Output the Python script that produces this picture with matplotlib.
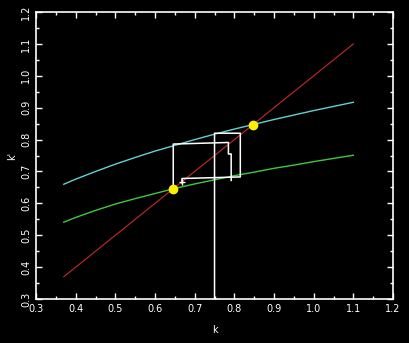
import numpy as np
import matplotlib
matplotlib.use("Agg")
import matplotlib.pyplot as plt
from matplotlib.ticker import MultipleLocator, FormatStrFormatter

# capital grid and policy functions
k_grid = [0.37, 0.40, 0.45, 0.50, 0.55, 0.60, 0.65, 0.70, 0.75,
          0.80, 0.85, 0.90, 0.95, 1.00, 1.05, 1.10]
k_high = [0.660, 0.676, 0.700, 0.723, 0.744, 0.764, 0.782, 0.800, 0.817,
          0.833, 0.848, 0.863, 0.877, 0.891, 0.904, 0.917]
k_low = [0.541, 0.556, 0.578, 0.598, 0.615, 0.631, 0.647, 0.661, 0.674,
         0.687, 0.698, 0.710, 0.720, 0.731, 0.741, 0.751]

# steady states (yellow dots)
ss_k = [0.645, 0.847]

# simulated path (white)
path1_k = [0.75, 0.75, 0.815, 0.815, 0.668, 0.668]
path1_kp = [0.30, 0.82, 0.82, 0.683, 0.678, 0.664]
path2_k = [0.646, 0.646, 0.785, 0.785, 0.792, 0.792]
path2_kp = [0.645, 0.786, 0.791, 0.755, 0.755, 0.672]
cross_k = [0.668]
cross_kp = [0.668]

fig = plt.figure(figsize=(4.09, 3.43), dpi=100, facecolor="black")
ax = fig.add_axes([0.088, 0.128, 0.873, 0.837], facecolor="black")

ax.plot([k_grid[0], k_grid[-1]], [k_grid[0], k_grid[-1]], color="#c82828", lw=0.8)
ax.plot(k_grid, k_high, color="#5fd3d3", lw=1.0)
ax.plot(k_grid, k_low, color="#3fc83f", lw=1.0)
ax.plot(path1_k, path1_kp, color="white", lw=1.1)
ax.plot(path2_k, path2_kp, color="white", lw=1.1)
ax.plot(cross_k, cross_kp, "+", color="white", ms=5, mew=1.0)
ax.plot(ss_k, ss_k, "o", color="#ffee00", ms=6, mec="#ffee00")

ax.set_xlim(0.3, 1.2)
ax.set_ylim(0.3, 1.2)
for a in (ax.xaxis, ax.yaxis):
    a.set_major_locator(MultipleLocator(0.1))
    a.set_minor_locator(MultipleLocator(0.05))
    a.set_major_formatter(FormatStrFormatter("%.1f"))

ax.tick_params(which="both", direction="in", colors="white", top=True, right=True,
               labelsize=7, width=1.0)
ax.tick_params(which="major", length=4)
ax.tick_params(which="minor", length=2)
for lab in ax.get_yticklabels():
    lab.set_rotation(90)
    lab.set_va("center")
for s in ax.spines.values():
    s.set_color("white")
    s.set_linewidth(1.2)

ax.set_xlabel("k", color="white", fontsize=7, labelpad=8)
ax.set_ylabel("k'", color="white", fontsize=7, labelpad=3)

fig.savefig("out.png", dpi=100, facecolor="black")
